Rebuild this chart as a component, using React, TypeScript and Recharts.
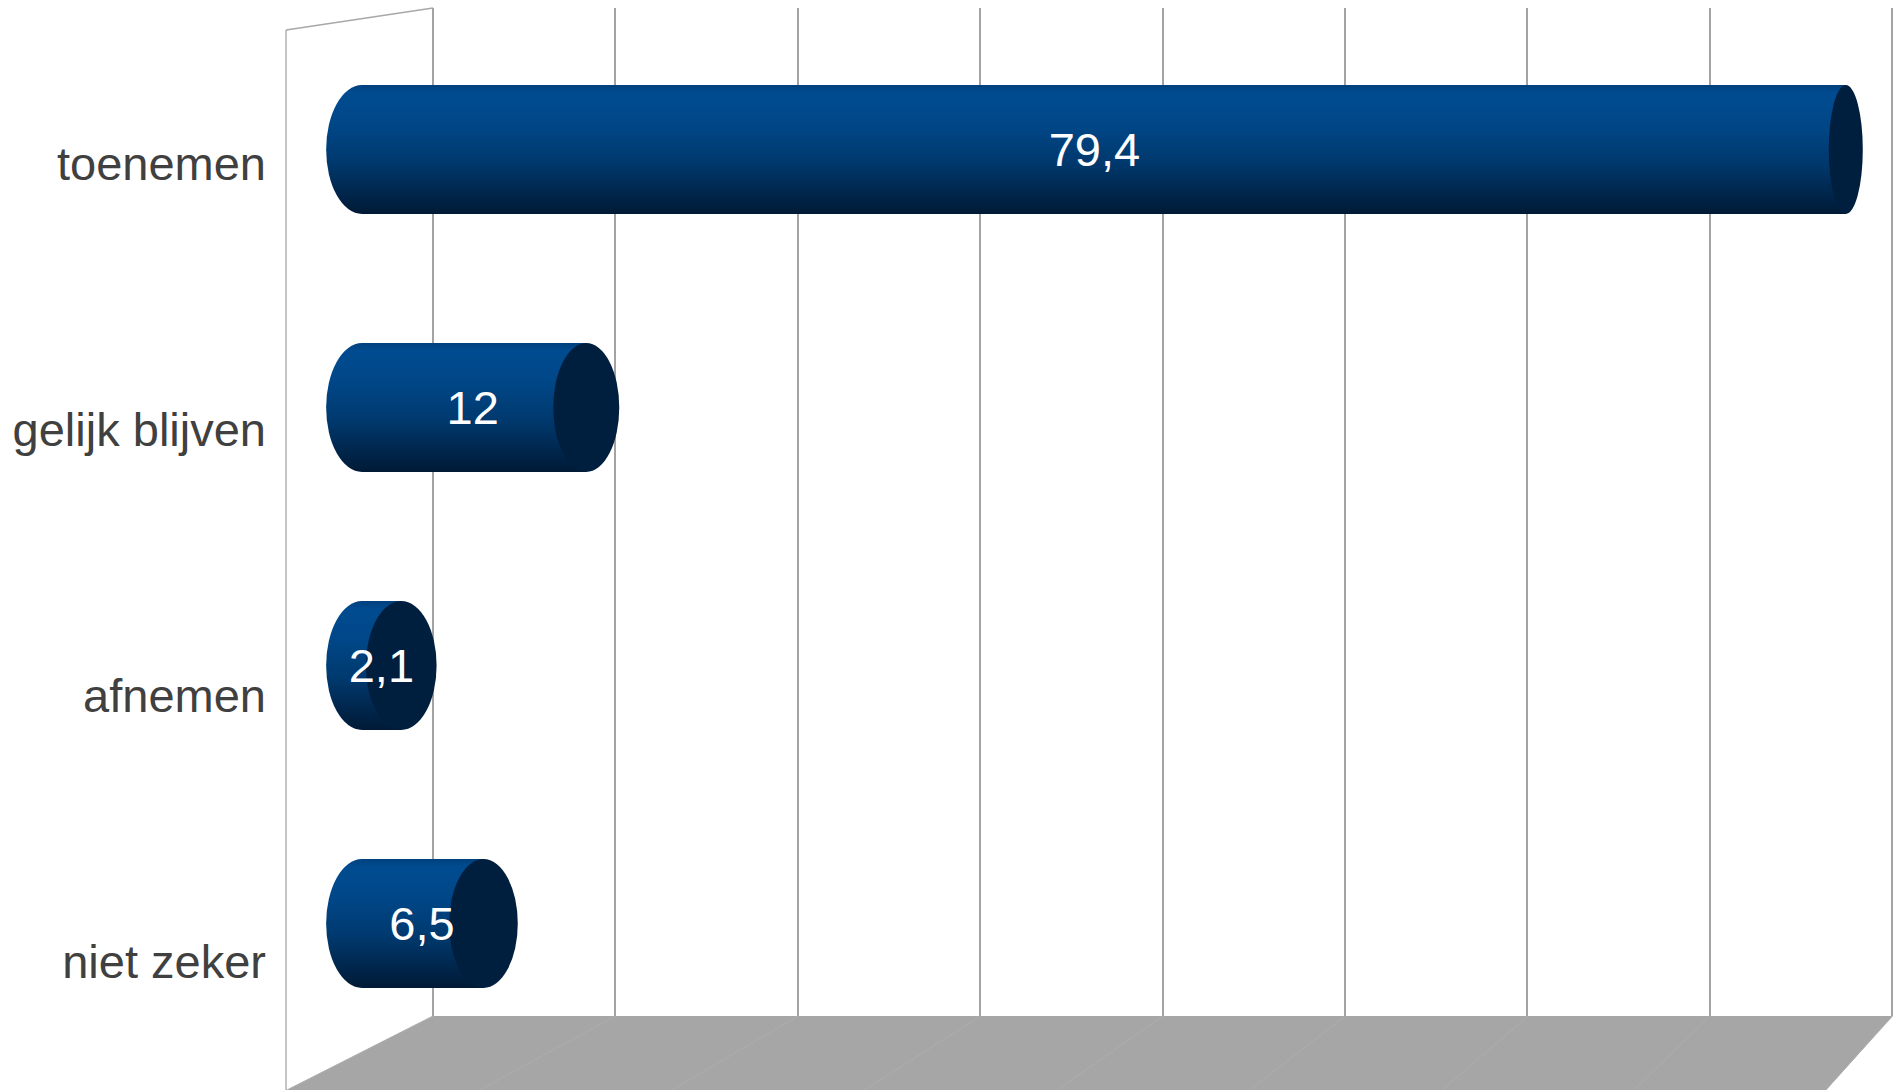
import React from 'react';
import { BarChart, Bar, XAxis, YAxis, CartesianGrid } from 'recharts';

const CATEGORIES = ['toenemen', 'gelijk blijven', 'afnemen', 'niet zeker'];
const VALUES = [79.4, 12, 2.1, 6.5];
const GRID_TICKS = [0, 10, 20, 30, 40, 50, 60, 70, 80];

const data = CATEGORIES.map((name, i) => ({ name, value: VALUES[i] }));

const W = 1896;
const H = 1090;
const FONT = '"Liberation Sans", Arial, Helvetica, sans-serif';
const LABEL_SHIFT = [14, 22, 30, 38];

// perspective mapping of the front plane (bars) onto the back wall (grid)
const FRONT0 = 362;
const FRONT80 = 1857;
const BACK0 = 433;
const BACK80 = 1892;
const toBack = (xf: number) => BACK0 + ((xf - FRONT0) * (BACK80 - BACK0)) / (FRONT80 - FRONT0);

const capRx = (xc: number) => Math.max(10, 0.0127 * (3185 - xc));

const fmt = (v: number) => String(v).replace('.', ',');

const Cylinder = (props: any) => {
  const { x, y, width, height, value } = props;
  const ry = height / 2;
  const rxL = capRx(x);
  const xr = x + width;
  const rxR = capRx(xr);
  const cy = y + ry;
  const body = `M ${x},${y} L ${xr},${y} L ${xr},${y + height} L ${x},${y + height} A ${rxL} ${ry} 0 0 1 ${x},${y} Z`;
  const labelX = (x - rxL + xr + rxR) / 2;
  return (
    <g>
      <path d={body} fill="url(#cylBody)" />
      <ellipse cx={xr} cy={cy} rx={rxR} ry={ry} fill="#001f3e" />
      <text
        x={labelX}
        y={cy}
        textAnchor="middle"
        dominantBaseline="central"
        fill="#ffffff"
        fontSize={47}
        fontFamily={FONT}
      >
        {fmt(value)}
      </text>
    </g>
  );
};

const CategoryTick = (props: any) => {
  const { y, payload, index } = props;
  return (
    <text
      x={266}
      y={y + LABEL_SHIFT[index]}
      dy="0.355em"
      textAnchor="end"
      fill="#404040"
      fontSize={47}
      fontFamily={FONT}
    >
      {payload.value}
    </text>
  );
};

const applyScale = (scale: any, v: number) =>
  typeof scale === 'function' ? scale(v) : scale && typeof scale.map === 'function' ? scale.map(v) : NaN;

const floorDx = (xb: number) => -146 + 0.0548 * (xb - 433);

export default function App() {
  return (
    <div style={{ position: 'relative', width: W, height: H, background: '#fff', overflow: 'hidden' }}>
      <style>{'body{margin:0;}'}</style>
      <svg width={W} height={H} style={{ position: 'absolute', left: 0, top: 0 }}>
        <polygon points="433,1016 1893,1016 1826,1090 287,1090" fill="#a6a6a6" />
        {[433, 615.5, 798, 980.5, 1163, 1345.5, 1528, 1710, 1892].map((xb) => (
          <line key={xb} x1={xb} y1={1016} x2={xb + floorDx(xb)} y2={1090} stroke="#adadad" strokeWidth={1} />
        ))}
        <line x1={286} y1={30} x2={433} y2={8} stroke="#a8a8a8" strokeWidth={1.5} />
        <line x1={286} y1={30} x2={286} y2={1090} stroke="#b0b0b0" strokeWidth={1.5} />
      </svg>
      <div style={{ position: 'absolute', left: 0, top: 0 }}>
        <BarChart
          width={W}
          height={H}
          data={data}
          layout="vertical"
          margin={{ top: 20, right: 0, bottom: 38, left: 0 }}
        >
          <defs>
            <linearGradient id="cylBody" x1="0" y1="0" x2="0" y2="1">
              <stop offset="0%" stopColor="#00407e" />
              <stop offset="6%" stopColor="#004b90" />
              <stop offset="30%" stopColor="#004788" />
              <stop offset="60%" stopColor="#00396e" />
              <stop offset="85%" stopColor="#00254a" />
              <stop offset="100%" stopColor="#001a36" />
            </linearGradient>
          </defs>
          <XAxis
            type="number"
            domain={[0, 80]}
            ticks={GRID_TICKS}
            padding={{ left: FRONT0 - 300, right: W - FRONT80 }}
            hide
          />
          <YAxis
            type="category"
            dataKey="name"
            width={300}
            axisLine={false}
            tickLine={false}
            tick={<CategoryTick />}
            interval={0}
          />
          <CartesianGrid
            horizontal={false}
            verticalCoordinatesGenerator={({ xAxis }: any) =>
              GRID_TICKS.map((t) => Math.round(toBack(applyScale(xAxis.scale, t))))
            }
            vertical={(p: any) => (
              <line
                key={`g-${p.index}`}
                x1={p.x1}
                x2={p.x2}
                y1={8}
                y2={1016}
                stroke="#a3a3a3"
                strokeWidth={2}
              />
            )}
          />
          <Bar
            dataKey="value"
            barSize={129}
            shape={<Cylinder />}
            isAnimationActive={false}
          />
        </BarChart>
      </div>
    </div>
  );
}
